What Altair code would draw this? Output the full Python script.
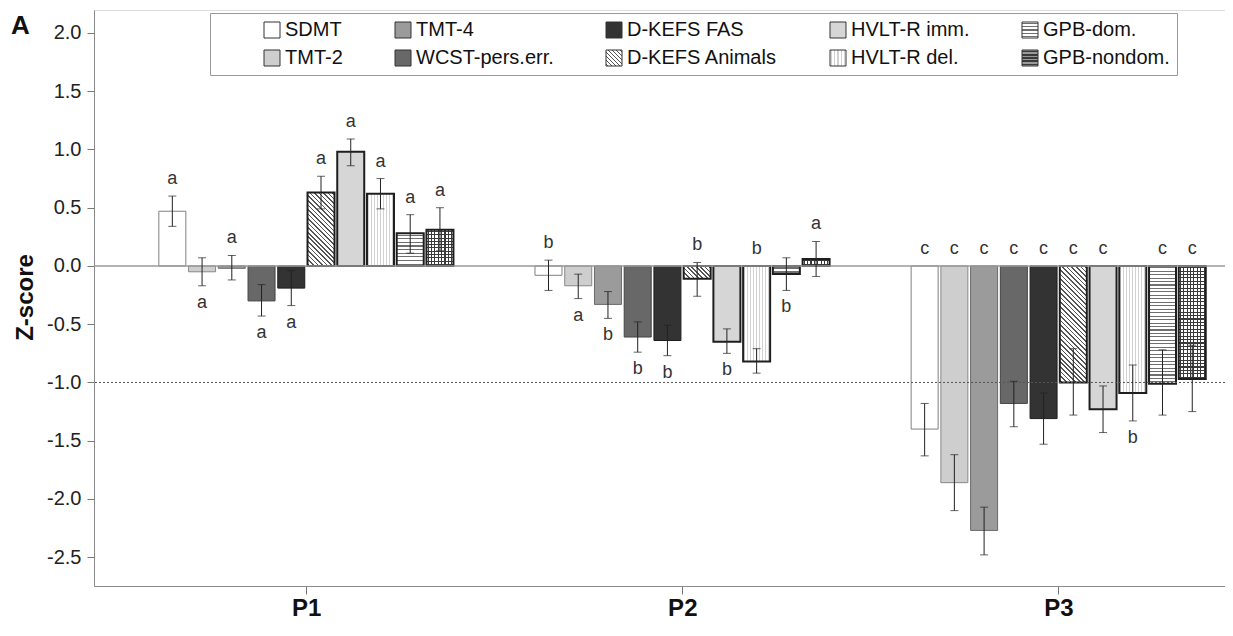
import json
import math
import altair as alt
import pandas as pd

# ---------------- data ----------------
groups = ["P1", "P2", "P3"]
tests = ["SDMT", "TMT-2", "TMT-4", "WCST-pers.err.", "D-KEFS FAS",
         "D-KEFS Animals", "HVLT-R imm.", "HVLT-R del.", "GPB-dom.", "GPB-nondom."]

p1_mean = [0.47, -0.05, -0.02, -0.30, -0.19, 0.63, 0.98, 0.62, 0.28, 0.31]
p1_lo = [0.34, -0.17, -0.12, -0.43, -0.34, 0.49, 0.86, 0.49, 0.11, 0.13]
p1_hi = [0.60, 0.07, 0.09, -0.16, -0.04, 0.77, 1.09, 0.75, 0.44, 0.50]
p1_letter = ["a", "a", "a", "a", "a", "a", "a", "a", "a", "a"]
p1_side = ["above", "below", "above", "below", "below", "above", "above", "above", "above", "above"]

p2_mean = [-0.08, -0.17, -0.33, -0.61, -0.64, -0.11, -0.65, -0.82, -0.07, 0.06]
p2_lo = [-0.21, -0.28, -0.45, -0.74, -0.77, -0.26, -0.75, -0.92, -0.21, -0.09]
p2_hi = [0.05, -0.07, -0.22, -0.48, -0.51, 0.03, -0.54, -0.71, 0.07, 0.21]
p2_letter = ["b", "a", "b", "b", "b", "b", "b", "b", "b", "a"]
p2_side = ["above", "below", "below", "below", "below", "above", "below", "above", "below", "above"]

p3_mean = [-1.40, -1.86, -2.27, -1.18, -1.31, -1.00, -1.23, -1.09, -1.01, -0.97]
p3_lo = [-1.63, -2.10, -2.48, -1.38, -1.53, -1.28, -1.43, -1.33, -1.28, -1.25]
p3_hi = [-1.18, -1.62, -2.07, -0.99, -1.09, -0.71, -1.03, -0.85, -0.72, -0.68]
p3_letter = ["c", "c", "c", "c", "c", "c", "c", "b", "c", "c"]
p3_side = ["above", "above", "above", "above", "above", "above", "above", "below", "above", "above"]

reference_levels = [0.0, -1.0]
reference_kinds = ["zero", "cutoff"]

# ---------------- layout ----------------
W, H = 1131, 576
Y_MIN, Y_MAX = -2.747, 2.197
X_MIN, X_MAX = 0.4493, 3.4295
PX_X = W / (X_MAX - X_MIN)
PX_Y = H / (Y_MAX - Y_MIN)
PITCH_PX = 30.0
BAR_W = 27
FONT = "Liberation Sans"


def banded(n, ink, paper, frac, x1, y1, x2, y2):
    n = max(1, int(round(n)))
    stops = []
    for k in range(n):
        a = k / n
        m1 = (k + (1 - frac) / 2) / n
        m2 = (k + (1 + frac) / 2) / n
        c = (k + 1) / n
        stops += [
            {"offset": round(a, 5), "color": paper},
            {"offset": round(m1, 5), "color": paper},
            {"offset": round(m1, 5), "color": ink},
            {"offset": round(m2, 5), "color": ink},
            {"offset": round(m2, 5), "color": paper},
            {"offset": round(c, 5), "color": paper},
        ]
    return {"gradient": "linear", "x1": x1, "y1": y1, "x2": x2, "y2": y2, "stops": stops}


def horiz(h, period, ink, paper, frac):
    return banded(h / period, ink, paper, frac, 0, 0, 0, 1)


def vert(w, period, ink, paper, frac):
    return banded(w / period, ink, paper, frac, 0, 0, 1, 0)


def diag(w, h, period, ink, paper, frac):
    k = (w + h) / (w * w + h * h)
    n = (w + h) / math.sqrt(2) / period
    return banded(n, ink, paper, frac, 0, 1, w * k, 1 - h * k)


INK = "#3a3a3a"
solid = {"SDMT": "#ffffff", "TMT-2": "#cecece", "TMT-4": "#9b9b9b",
         "WCST-pers.err.": "#686868", "D-KEFS FAS": "#333333", "HVLT-R imm.": "#d6d6d6"}
strokes = {"SDMT": ("#808080", 1), "TMT-2": ("#888888", 1), "TMT-4": ("#6a6a6a", 1),
           "WCST-pers.err.": ("#444444", 1), "D-KEFS FAS": ("#1e1e1e", 1)}


def fill_for(test, w, h):
    if test in solid:
        return solid[test]
    if test == "D-KEFS Animals":
        return diag(w, h, 3.3, "#555555", "#ffffff", 0.36)
    if test == "HVLT-R del.":
        return vert(w, 3.0, "#d2d2d2", "#ffffff", 0.33)
    if test == "GPB-dom.":
        return horiz(h, 3.5, "#707070", "#ffffff", 0.32)
    return horiz(h, 3.4, INK, "#ffffff", 0.32)


rows = []
series = [(p1_mean, p1_lo, p1_hi, p1_letter, p1_side),
          (p2_mean, p2_lo, p2_hi, p2_letter, p2_side),
          (p3_mean, p3_lo, p3_hi, p3_letter, p3_side)]
for gi, (means, los, his, lets, sides) in enumerate(series):
    for ti, t in enumerate(tests):
        m = means[ti]
        h_px = abs(m) * PX_Y
        st, sw = strokes.get(t, ("#1e1e1e", 2))
        rows.append({
            "group": groups[gi], "test": t,
            "xpos": gi + 1 + (ti - 4.5) * PITCH_PX / PX_X,
            "mean": m, "base": 0.0, "lo": los[ti], "hi": his[ti],
            "letter": lets[ti], "side": sides[ti],
            "letter_y": max(his[ti], 0.0) if sides[ti] == "above" else min(los[ti], 0.0),
            "fill": fill_for(t, BAR_W, h_px),
            "overlay": vert(BAR_W, 3.4, INK, "rgba(255,255,255,0)", 0.32),
            "stroke": st, "sw": sw,
        })
df = pd.DataFrame(rows)
df_ref = pd.DataFrame({"level": reference_levels, "kind": reference_kinds})

SYM = 16
legend_fill = {
    "SDMT": "#ffffff", "TMT-2": "#cecece", "TMT-4": "#9b9b9b",
    "WCST-pers.err.": "#686868", "D-KEFS FAS": "#333333", "HVLT-R imm.": "#d6d6d6",
    "D-KEFS Animals": diag(SYM, SYM, 3.0, "#555555", "#ffffff", 0.38),
    "HVLT-R del.": vert(SYM, 3.0, "#d2d2d2", "#ffffff", 0.33),
    "GPB-dom.": horiz(SYM, 3.2, "#707070", "#ffffff", 0.35),
    "GPB-nondom.": horiz(SYM, 3.2, INK, "#9a9a9a", 0.5),
}
legend_range = []
for name in tests:
    v = legend_fill[name]
    legend_range.append(v if isinstance(v, str) else {"expr": json.dumps(v)})

# ---------------- encodings ----------------
XS = alt.Scale(domain=[X_MIN, X_MAX], nice=False, zero=False)
YS = alt.Scale(domain=[Y_MIN, Y_MAX], nice=False, zero=False)
XAX = alt.Axis(values=[1, 2, 3], labelExpr="'P' + datum.value", labelFontSize=24,
               labelFontWeight="bold", labelFont=FONT, labelColor="#111111",
               tickSize=8, tickColor="#777777", domainColor="#8a8a8a",
               labelPadding=2, grid=False)
YAX = alt.Axis(values=[-2.5, -2.0, -1.5, -1.0, -0.5, 0.0, 0.5, 1.0, 1.5, 2.0],
               labelExpr="replace(format(datum.value, '.1f'), '\u2212', '-')",
               labelFontSize=20, labelFont=FONT, labelColor="#222222",
               tickSize=7, tickColor="#777777", domainColor="#8a8a8a",
               labelPadding=6, grid=False,
               titleFontSize=24, titleFontWeight="bold", titleFont=FONT, titleColor="#111111",
               titleX=-69, titleY=287, titleAngle=270, titleAlign="center",
               titleBaseline="middle")


def xq():
    return alt.X("xpos:Q", scale=XS, axis=XAX, title="")


def yq(f):
    return alt.Y(f"{f}:Q", scale=YS, axis=YAX, title="Z-score")


bars = alt.Chart(df).mark_bar(size=BAR_W, strokeWidth=0).encode(
    x=xq(), y=yq("mean"), y2="base:Q",
    fill=alt.Fill("fill:N", scale=None))

grid_overlay = alt.Chart(df).transform_filter(
    alt.datum.test == "GPB-nondom.").mark_bar(size=BAR_W, strokeWidth=0).encode(
    x=xq(), y=yq("mean"), y2="base:Q",
    fill=alt.Fill("overlay:N", scale=None))

outlines = alt.Chart(df).mark_bar(size=BAR_W, fill="transparent").encode(
    x=xq(), y=yq("mean"), y2="base:Q",
    stroke=alt.Stroke("stroke:N", scale=None),
    strokeWidth=alt.StrokeWidth("sw:Q", scale=None))

zero_line = alt.Chart(df_ref).transform_filter(alt.datum.kind == "zero").mark_rule(
    color="#9a9a9a", strokeWidth=1.5).encode(y=yq("level"))

cutoff_line = alt.Chart(df_ref).transform_filter(alt.datum.kind == "cutoff").mark_rule(
    color="#555555", strokeWidth=1, strokeDash=[2, 2]).encode(y=yq("level"))

err = alt.Chart(df).mark_rule(color="#222222", strokeWidth=1).encode(
    x=xq(), y=yq("lo"), y2="hi:Q")
cap_lo = alt.Chart(df).mark_tick(orient="horizontal", size=8, thickness=1,
                                 color="#222222").encode(x=xq(), y=yq("lo"))
cap_hi = alt.Chart(df).mark_tick(orient="horizontal", size=8, thickness=1,
                                 color="#222222").encode(x=xq(), y=yq("hi"))

letters_above = alt.Chart(df).transform_filter(alt.datum.side == "above").mark_text(
    fontSize=18, font=FONT, color="#333333",
    baseline="alphabetic", dy=-12).encode(x=xq(), y=yq("letter_y"), text="letter:N")
letters_below = alt.Chart(df).transform_filter(alt.datum.side == "below").mark_text(
    fontSize=18, font=FONT, color="#333333",
    baseline="alphabetic", dy=22).encode(x=xq(), y=yq("letter_y"), text="letter:N")

legend_layer = alt.Chart(df).mark_square(opacity=0, size=4).encode(
    x=xq(), y=yq("mean"),
    color=alt.Color("test:N", title="\u00a0",
                    scale=alt.Scale(domain=tests, range=legend_range),
                    legend=alt.Legend(orient="none", legendX=116, legendY=3, columns=5,
                                      gridAlign="each", columnPadding=50, rowPadding=8,
                                      padding=7, strokeColor="#999999", fillColor="#ffffff",
                                      titleOrient="left", titlePadding=45, titleFontSize=20,
                                      symbolType="square", symbolSize=256,
                                      symbolStrokeColor="#333333", symbolStrokeWidth=1,
                                      symbolOpacity=1, labelFont=FONT, labelFontSize=20,
                                      labelColor="#111111", labelOffset=3, labelLimit=300)))

chart = alt.layer(
    bars, grid_overlay, outlines, zero_line, cutoff_line,
    err, cap_lo, cap_hi, letters_above, letters_below, legend_layer
).properties(
    width=W, height=H,
    padding={"left": 86, "top": 2, "right": 0, "bottom": 36},
    autosize=alt.AutoSizeParams(type="none"),
    title=alt.TitleParams("A", anchor="start", frame="group", dx=-83, offset=-29,
                          fontSize=26, fontWeight="bold", font=FONT,
                          color="#111111"),
).configure_view(stroke="transparent").configure(font=FONT)

chart.save("out.html", embed_options={"renderer": "svg", "actions": False})
